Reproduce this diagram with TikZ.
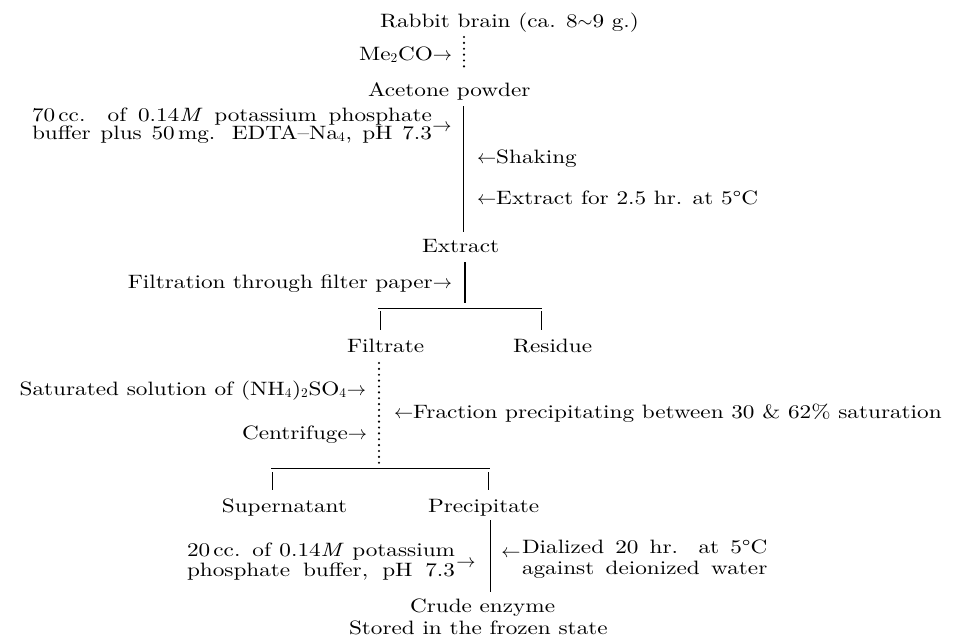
\documentclass[tikz,border=0pt]{standalone}
\usepackage{fontspec}
\setmainfont{lmroman10-regular}[Extension=.otf, ItalicFont=lmroman10-italic, BoldFont=lmroman10-bold, FakeStretch=1.2]
\begin{document}
\begin{tikzpicture}[x=0.75pt,y=-0.75pt,
  txt/.style={inner sep=0pt,outer sep=0pt,font=\fontsize{14.5}{17}\selectfont},
  flow/.style={line width=0.6pt},
  flowthick/.style={line width=1.4pt},
  dotline/.style={line width=1.8pt,line cap=round,dash pattern=on 0pt off 4.4pt}]
\useasboundingbox (0,0) rectangle (962,640);
% texts
\node[txt,anchor=base west] (rabbit) at (380,27) {Rabbit brain (ca. 8$\sim$9 g.)};
\node[txt,anchor=base east] (me) at (452,60) {Me$_2$CO$\rightarrow$};
\node[txt,anchor=base west] (acetone) at (368,96) {Acetone powder};
\node[txt,anchor=base west] (buf1) at (32,121) {\makebox[300pt][s]{70\,cc. of 0.14\textit{M} potassium phosphate}};
\node[txt,anchor=base west] (buf2) at (32,139) {\makebox[300pt][s]{buffer plus 50\,mg. EDTA--Na$_4$, pH 7.3}};
\node[txt] (bufarrow) at (442,128) {$\rightarrow$};
\node[txt,anchor=base west] (shaking) at (477,163) {$\leftarrow$Shaking};
\node[txt,anchor=base west] (extr5) at (477,204) {$\leftarrow$Extract for 2.5 hr. at 5°C};
\node[txt,anchor=base west] (extract) at (422,252) {Extract};
\node[txt,anchor=base east] (filtr) at (452,288) {\spaceskip=5.5pt plus 1pt Filtration through filter paper$\rightarrow$};
\node[txt,anchor=base west] (filtrate) at (347,352) {Filtrate};
\node[txt,anchor=base west] (residue) at (513,352) {Residue};
\node[txt,anchor=base east] (satur) at (366,395) {Saturated solution of (NH$_4$)$_2$SO$_4$$\rightarrow$};
\node[txt,anchor=base west] (fraction) at (394,418) {$\leftarrow$Fraction precipitating between 30 \& 62\% saturation};
\node[txt,anchor=base east] (centr) at (367,439) {Centrifuge$\rightarrow$};
\node[txt,anchor=base east] (super) at (347,512) {Supernatant};
\node[txt,anchor=base west] (precip) at (428,512) {Precipitate};
\node[txt,anchor=base west] (b20a) at (187,556) {\makebox[201pt][s]{20\,cc. of 0.14\textit{M} potassium}};
\node[txt,anchor=base west] (b20b) at (187,576) {\makebox[201pt][s]{phosphate buffer, pH 7.3}};
\node[txt] (b20arrow) at (466,564) {$\rightarrow$};
\node[txt] (dialarrow) at (511,554) {$\leftarrow$};
\node[txt,anchor=base west] (dial1) at (522,553) {\makebox[184pt][s]{Dialized 20 hr. at 5°C}};
\node[txt,anchor=base west] (dial2) at (522,574) {\makebox[184pt][s]{against deionized water}};
\node[txt,anchor=base west] (crude) at (410,612) {Crude enzyme};
\node[txt,anchor=base west] (stored) at (349,634) {Stored in the frozen state};
% line end points
\coordinate (d1t) at (464,37);  \coordinate (d1b) at (464,72);
\coordinate (s1t) at (463,106); \coordinate (s1b) at (463,232);
\coordinate (s2t) at (465,262); \coordinate (s2b) at (465,303);
\coordinate (h1l) at (378,308); \coordinate (h1r) at (542,308);
\coordinate (t1at) at (380,311); \coordinate (t1ab) at (380,330);
\coordinate (t1bt) at (541,311); \coordinate (t1bb) at (541,330);
\coordinate (d2t) at (379,363); \coordinate (d2b) at (379,463);
\coordinate (h2l) at (271,468); \coordinate (h2r) at (490,468);
\coordinate (t2at) at (272,472); \coordinate (t2ab) at (272,490);
\coordinate (t2bt) at (488,472); \coordinate (t2bb) at (488,490);
\coordinate (s3t) at (490,520); \coordinate (s3b) at (490,592);
% lines
\draw[dotline] (d1t) -- (d1b);
\draw[flow] (s1t) -- (s1b);
\draw[flowthick] (s2t) -- (s2b);
\draw[flow] (h1l) -- (h1r);
\draw[flow] (t1at) -- (t1ab);
\draw[flow] (t1bt) -- (t1bb);
\draw[dotline] (d2t) -- (d2b);
\draw[flow] (h2l) -- (h2r);
\draw[flow] (t2at) -- (t2ab);
\draw[flow] (t2bt) -- (t2bb);
\draw[flow] (s3t) -- (s3b);
\end{tikzpicture}
\end{document}
